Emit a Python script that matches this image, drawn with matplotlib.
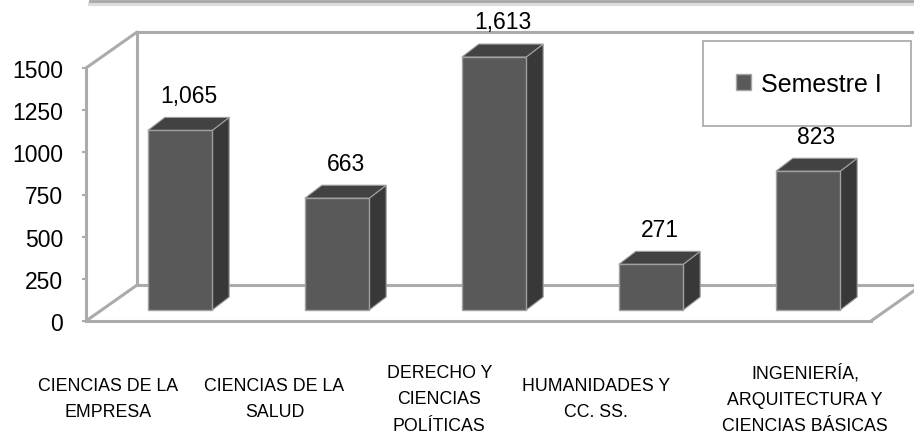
import numpy as np
import matplotlib.pyplot as plt
from matplotlib import font_manager
from matplotlib.patches import Patch, Polygon, Rectangle
from matplotlib.lines import Line2D

categories = ['CIENCIAS DE LA\nEMPRESA', 'CIENCIAS DE LA\nSALUD',
              'DERECHO Y\nCIENCIAS\nPOLÍTICAS', 'HUMANIDADES Y\nCC. SS.',
              'INGENIERÍA,\nARQUITECTURA Y\nCIENCIAS BÁSICAS']
semestre_1 = [1065, 663, 1613, 271, 823]
value_labels = ['1,065', '663', '1,613', '271', '823']
yticks = [0, 250, 500, 750, 1000, 1250, 1500]
series_name = 'Semestre I'

# fake 3d layout (category units / value units)
ymax = 1500
wall_dx, wall_dy = 0.325, 213      # full floor depth
bar_ox, bar_oy = 0.099, 65          # bars sit a bit behind the front edge
bar_dx, bar_dy = 0.108, 77          # bar depth
bar_w = 0.41
label_shift = [-0.36, -0.30, -0.25, -0.25, 0.08]

wall_col = '#ababab'
front_col = '#595959'
side_col = '#383838'
top_col = '#424242'
edge_col = '#a0a0a0'

try:
    font_manager.findfont('Liberation Sans Narrow', fallback_to_default=False)
    narrow, cat_size = ['Liberation Sans Narrow', 'DejaVu Sans'], 15
except ValueError:
    narrow, cat_size = ['Liberation Sans', 'DejaVu Sans'], 12.8
plt.rcParams['font.family'] = ['Liberation Sans', 'DejaVu Sans']

fig = plt.figure(figsize=(9.14, 4.39), dpi=100)
ax = fig.add_axes([86/914, 117/439, 785/914, 253/439])
ax.set_xlim(-0.5, 4.5)
ax.set_ylim(0, ymax)

# walls and floor
x0, x1 = -0.5, 4.5
wl = dict(color=wall_col, lw=2.2, clip_on=False, zorder=1, solid_capstyle='round')
ax.plot([x0, x0 + wall_dx], [0, wall_dy], **wl)
ax.plot([x0, x0 + wall_dx], [ymax, ymax + wall_dy], **wl)
ax.plot([x0 + wall_dx, x0 + wall_dx], [wall_dy, ymax + wall_dy], **wl)
ax.plot([x0 + wall_dx, x1 + 1], [ymax + wall_dy, ymax + wall_dy], **wl)
ax.plot([x0 + wall_dx, x1 + 1], [wall_dy, wall_dy], **wl)
ax.plot([x1, x1 + wall_dx], [0, wall_dy], **wl)

# bars
x = np.arange(len(semestre_1))
heights = np.minimum(semestre_1, ymax)
xc = x + bar_ox
ax.bar(xc, heights, width=bar_w, bottom=bar_oy, color=front_col,
       edgecolor=edge_col, linewidth=1, clip_on=False, zorder=4)
for i in range(len(x)):
    l, r = xc[i] - bar_w/2, xc[i] + bar_w/2
    b, t = bar_oy, bar_oy + heights[i]
    side = Polygon([(r, b), (r, t), (r + bar_dx, t + bar_dy), (r + bar_dx, b + bar_dy)],
                   closed=True, facecolor=side_col, edgecolor=edge_col, lw=0.8,
                   clip_on=False, zorder=3)
    top = Polygon([(l, t), (r, t), (r + bar_dx, t + bar_dy), (l + bar_dx, t + bar_dy)],
                  closed=True, facecolor=top_col, edgecolor=edge_col, lw=0.8,
                  clip_on=False, zorder=3)
    ax.add_patch(side)
    ax.add_patch(top)
    ax.annotate(value_labels[i], (xc[i] + bar_dx/2, t + bar_dy), xytext=(0, 16),
                textcoords='offset points', ha='center', va='center',
                fontsize=16.5, color='black', annotation_clip=False)

# axes
for s in ['top', 'right']:
    ax.spines[s].set_visible(False)
for s in ['left', 'bottom']:
    ax.spines[s].set_color(wall_col)
    ax.spines[s].set_linewidth(2.2)
    ax.spines[s].set_zorder(2)
ax.set_yticks(yticks)
ax.tick_params(axis='y', length=3, width=1.5, color=wall_col, pad=13.5,
               labelsize=16.5, labelcolor='black')
ax.set_xticks(x + np.array(label_shift))
ax.set_xticklabels(categories, fontsize=cat_size, family=narrow, linespacing=1.72)
ax.tick_params(axis='x', length=0, pad=56)
for lab in ax.get_xticklabels():
    lab.set_va('center')

# legend box
fig.add_artist(Rectangle((703/914, 1 - 127/439), 208/914, 85/439,
                         transform=fig.transFigure, facecolor='white',
                         edgecolor='#a6a6a6', lw=1.2))
handle = Patch(facecolor=front_col, edgecolor='#a6a6a6', label=series_name)
fig.legend(handles=[handle], loc='center', bbox_to_anchor=(0.885, 0.806),
           bbox_transform=fig.transFigure, frameon=False, fontsize=18,
           handlelength=0.6, handleheight=0.6, handletextpad=0.4)

# title box edge at the very top
fig.add_artist(Line2D([90/914, 1], [1 - 5/439, 1 - 5/439], transform=fig.transFigure,
                      color='#dddddd', lw=3))
fig.add_artist(Line2D([90/914, 1], [1 - 2/439, 1 - 2/439], transform=fig.transFigure,
                      color='#a8a8a8', lw=2))

fig.savefig('out.png', dpi=100)
